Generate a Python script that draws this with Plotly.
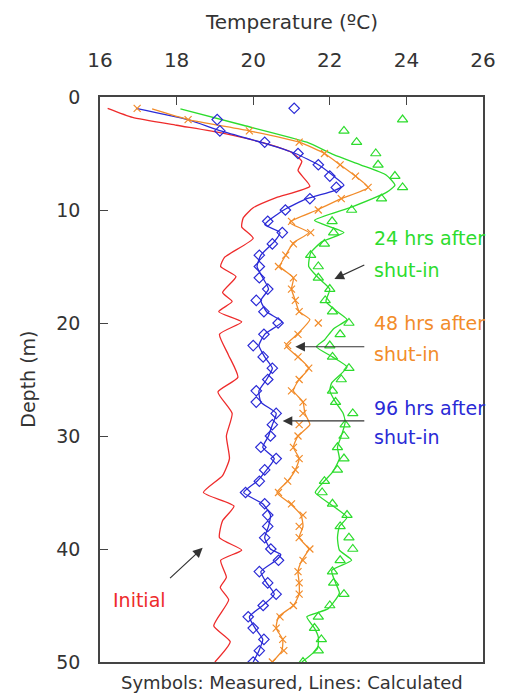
import plotly.graph_objects as go

# ---------------- data ----------------
# Calculated lines (depth m, temperature degC)
init_depth = [1.0, 1.8, 2.5, 3.2, 4.0, 4.9, 5.7, 6.5, 7.9, 8.9, 9.8, 10.7, 11.5, 12.5, 14.2, 15.0,
              15.9, 17.3, 18.1, 19.0, 19.9, 21.0, 22.8, 24.8, 26.1, 28.0, 30.0, 32.0, 33.5, 35.0,
              36.2, 37.5, 39.0, 40.1, 41.0, 42.5, 43.4, 44.5, 46.8, 48.2, 50.0]
init_temp = [16.2, 16.85, 18.0, 19.2, 20.2, 21.0, 21.27, 21.17, 21.48, 20.6, 20.0, 19.74, 19.7, 20.0,
             19.25, 19.15, 19.55, 19.2, 19.45, 19.1, 19.7, 19.12, 19.35, 19.6, 19.08, 19.45, 19.3,
             19.38, 19.2, 18.7, 19.5, 19.2, 19.12, 19.7, 19.15, 19.3, 19.14, 19.36, 18.97, 19.4, 19.0]

calc96_depth = [1.0, 2.0, 3.0, 4.0, 5.0, 6.0, 7.0, 7.8, 8.3, 9.0, 10.0, 11.0, 11.3, 12.0, 12.8, 14.0,
                15.0, 16.0, 17.0, 18.0, 19.0, 19.9, 21.0, 22.0, 23.0, 24.0, 25.0, 26.0, 27.0, 28.0,
                29.0, 30.0, 31.0, 32.0, 33.0, 34.0, 35.0, 36.0, 37.0, 38.0, 39.0, 40.0, 40.5, 41.0,
                42.0, 43.0, 44.0, 45.0, 46.0, 47.0, 48.0, 49.0, 50.0]
calc96_temp = [16.94, 18.3, 19.15, 20.2, 21.1, 21.7, 22.1, 22.37, 22.1, 21.4, 20.8, 20.38, 20.3, 20.7,
               20.55, 20.2, 20.1, 20.25, 20.4, 20.2, 20.35, 20.75, 20.3, 20.15, 20.3, 20.5, 20.35,
               20.15, 20.2, 20.6, 20.5, 20.4, 20.25, 20.55, 20.35, 20.1, 19.75, 20.25, 20.45, 20.4,
               20.3, 20.45, 20.72, 20.6, 20.2, 20.35, 20.55, 20.25, 19.9, 20.05, 20.25, 20.15, 20.0]

calc48_depth = [1.06, 2.0, 3.0, 4.0, 5.0, 6.0, 7.0, 8.0, 9.0, 10.0, 11.1, 12.0, 12.9, 14.0, 15.0, 16.0,
                17.0, 18.0, 19.0, 19.7, 21.0, 22.0, 23.0, 24.0, 25.0, 26.0, 27.0, 28.0, 29.0, 30.0,
                31.0, 32.0, 33.0, 34.0, 35.0, 36.0, 37.0, 38.0, 39.0, 40.0, 41.0, 42.0, 43.0, 44.0,
                45.0, 46.0, 47.0, 48.0, 49.0, 50.0]
calc48_temp = [17.36, 18.3, 19.9, 21.2, 21.86, 22.27, 22.67, 23.0, 22.3, 21.67, 20.95, 21.45, 21.05,
               20.85, 20.7, 21.05, 21.0, 21.1, 21.2, 21.48, 21.15, 20.85, 21.17, 21.45, 21.2, 21.05,
               21.3, 21.35, 21.48, 21.17, 21.05, 21.2, 21.1, 20.9, 20.62, 20.97, 21.25, 21.3, 21.2,
               21.45, 21.27, 21.17, 21.2, 21.2, 21.05, 20.66, 20.6, 20.77, 20.75, 20.5]

calc24_depth = [1.06, 2.5, 4.0, 5.1, 6.0, 6.9, 7.8, 8.4, 9.7, 10.9, 11.3, 12.0, 12.8, 13.8, 15.0, 16.0,
                17.0, 18.1, 19.0, 19.7, 20.5, 21.5, 22.1, 23.0, 23.9, 25.3, 26.0, 27.0, 28.0, 28.8,
                30.0, 31.0, 32.0, 33.2, 34.2, 35.0, 36.0, 37.2, 38.0, 39.0, 40.1, 41.0, 41.9, 43.0,
                43.9, 45.3, 46.0, 47.0, 47.8, 48.8, 50.0]
calc24_temp = [18.1, 19.74, 21.4, 22.1, 22.8, 23.47, 23.7, 23.5, 22.6, 21.6, 21.85, 22.37, 21.8, 21.5,
               21.45, 21.7, 22.0, 21.9, 22.2, 22.45, 22.1, 21.86, 21.65, 22.07, 22.45, 22.05, 22.0,
               22.15, 22.35, 22.4, 22.3, 22.2, 22.25, 22.07, 21.8, 21.62, 22.0, 22.45, 22.25, 22.2,
               22.25, 22.57, 22.05, 22.15, 22.25, 21.95, 21.4, 21.6, 21.7, 21.68, 21.27]

# Measured symbols
meas_depth = list(range(1, 51))
meas96_temp = [21.07, 19.06, 19.13, 20.3, 21.17, 21.7, 22.0, 22.17, 21.48, 20.84, 20.38, 20.76, 20.5,
               20.16, 20.16, 20.16, 20.38, 20.08, 20.28, 20.65, 20.28, 20.0, 20.26, 20.5, 20.38,
               20.08, 20.08, 20.6, 20.5, 20.45, 20.2, 20.6, 20.3, 20.16, 19.8, 20.3, 20.38, 20.38,
               20.3, 20.46, 20.66, 20.16, 20.38, 20.6, 20.26, 19.87, 20.0, 20.28, 20.16, 20.0]
meas48_temp = [16.97, 18.3, 19.9, 21.2, 21.86, 22.27, 22.67, 23.0, 22.3, 21.7, 21.0, 21.5, 21.05,
               20.85, 20.66, 21.05, 21.0, 21.1, 21.2, 21.7, 21.17, 20.9, 21.17, 21.45, 21.2, 21.0,
               21.3, 21.3, 21.2, 21.17, 21.05, 21.2, 21.1, 20.9, 20.66, 21.0, 21.3, 21.2, 21.2,
               21.48, 21.3, 21.17, 21.2, 21.2, 21.05, 20.7, 20.6, 20.77, 20.8, 20.5]
meas24_depth = list(range(2, 51))
meas24_temp = [23.9, 22.37, 22.7, 23.2, 23.26, 23.7, 23.9, 23.35, 22.57, 22.06, 22.1, 21.86, 21.5,
               21.7, 21.7, 22.0, 21.88, 22.07, 22.5, 22.27, 22.0, 22.07, 22.5, 22.3, 22.07, 22.15,
               22.6, 22.4, 22.37, 22.2, 22.37, 22.2, 21.86, 21.8, 22.07, 22.45, 22.27, 22.5, 22.6,
               22.27, 22.07, 22.1, 22.37, 22.0, 21.7, 21.6, 21.78, 21.7, 21.3]

x_ticks = [16, 18, 20, 22, 24, 26]
y_ticks = [0, 10, 20, 30, 40, 50]

RED = "#ee2b2b"
BLUE = "#2a2ad6"
ORANGE = "#f28c2a"
GREEN = "#2ddc2d"
FONT = "DejaVu Sans"
TXT = "#333"

fig = go.Figure()

for tx, dy, col in [(init_temp, init_depth, RED), (calc96_temp, calc96_depth, BLUE),
                    (calc48_temp, calc48_depth, ORANGE), (calc24_temp, calc24_depth, GREEN)]:
    fig.add_trace(go.Scatter(x=tx, y=dy, mode="lines",
                             line=dict(color=col, width=1.3, shape="spline", smoothing=0.5)))

fig.add_trace(go.Scatter(x=meas96_temp, y=meas_depth, mode="markers",
                         marker=dict(symbol="diamond-open", size=8, color=BLUE,
                                     line=dict(width=1.2, color=BLUE))))
fig.add_trace(go.Scatter(x=meas48_temp, y=meas_depth, mode="markers",
                         marker=dict(symbol="x-thin-open", size=7, color=ORANGE,
                                     line=dict(width=1.2, color=ORANGE))))
fig.add_trace(go.Scatter(x=meas24_temp, y=meas24_depth, mode="markers",
                         marker=dict(symbol="triangle-up-open", size=9, color=GREEN,
                                     line=dict(width=1.2, color=GREEN))))

annotations = []
# Titles
annotations.append(dict(xref="paper", yref="paper", x=0.5, y=1.133, text="Temperature (ºC)",
                        showarrow=False, font=dict(size=20, color=TXT, family=FONT),
                        xanchor="center", yanchor="middle"))
annotations.append(dict(xref="paper", yref="paper", x=-0.19, y=0.5, text="Depth (m)",
                        textangle=-90, showarrow=False,
                        font=dict(size=19, color=TXT, family=FONT),
                        xanchor="center", yanchor="middle"))
annotations.append(dict(xref="paper", yref="paper", x=0.5, y=-0.037,
                        text="Symbols: Measured, Lines: Calculated", showarrow=False,
                        font=dict(size=18, color=TXT, family=FONT),
                        xanchor="center", yanchor="middle"))

# Series labels
labels = [("24 hrs after", 23.09, 12.5, GREEN), ("shut-in", 23.09, 15.3, GREEN),
          ("48 hrs after", 23.09, 20.0, ORANGE), ("shut-in", 23.09, 22.7, ORANGE),
          ("96 hrs after", 23.09, 27.5, BLUE), ("shut-in", 23.09, 30.1, BLUE),
          ("Initial", 16.3, 44.5, RED)]
for txt, lx, ly, col in labels:
    annotations.append(dict(x=lx, y=ly, text=txt, showarrow=False, xanchor="left",
                            yanchor="middle", font=dict(size=19, color=col, family=FONT)))

# Arrows (head x,y ; tail ax,ay)
arrows = [(22.12, 16.1, 22.94, 14.8), (21.1, 22.1, 22.94, 22.1),
          (20.77, 28.67, 22.94, 28.67), (18.68, 39.9, 17.79, 42.7)]
for hx, hy, tx, ty in arrows:
    annotations.append(dict(x=hx, y=hy, ax=tx, ay=ty, xref="x", yref="y", axref="x", ayref="y",
                            text="", showarrow=True, arrowhead=2, arrowsize=1.6,
                            arrowwidth=1.2, arrowcolor="#333"))

fig.update_layout(
    width=508, height=695,
    margin=dict(l=100, r=16, t=97, b=33),
    paper_bgcolor="white", plot_bgcolor="white",
    showlegend=False,
    annotations=annotations,
    font=dict(family=FONT, size=19, color=TXT),
)
fig.update_xaxes(range=[16, 26], side="top", tickvals=x_ticks, ticks="inside", ticklen=8,
                 tickcolor="#444", tickwidth=1.3, showline=True, linecolor="#444", linewidth=1.5,
                 mirror=True, showgrid=False, zeroline=False, ticklabelstandoff=20,
                 tickfont=dict(size=20, family=FONT, color=TXT))
fig.update_yaxes(range=[50, 0], tickvals=y_ticks, ticks="inside", ticklen=8,
                 tickcolor="#444", tickwidth=1.3, showline=True, linecolor="#444", linewidth=1.5,
                 mirror=True, showgrid=False, zeroline=False, ticklabelstandoff=14,
                 tickfont=dict(size=19, family=FONT, color=TXT))

fig.write_html("out.html")
